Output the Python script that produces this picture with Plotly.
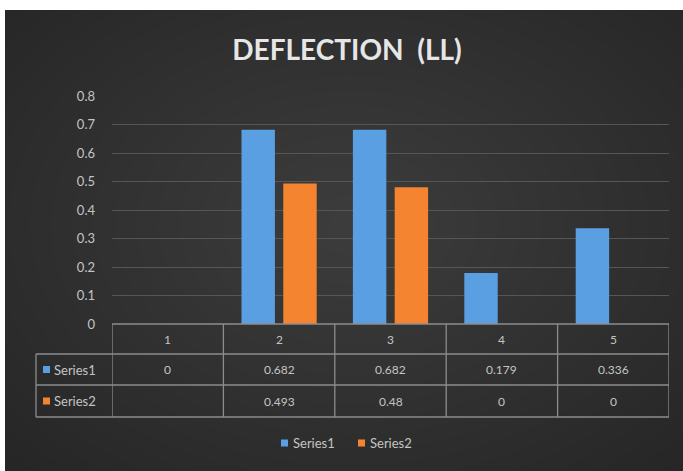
import plotly.graph_objects as go

# ---- data -------------------------------------------------------------
categories = [1, 2, 3, 4, 5]
category_labels = ["1", "2", "3", "4", "5"]
series_names = ["Series1", "Series2"]
series1 = [0, 0.682, 0.682, 0.179, 0.336]
series2 = [None, 0.493, 0.48, 0, 0]
y_ticks = [0, 0.1, 0.2, 0.3, 0.4, 0.5, 0.6, 0.7, 0.8]

# ---- styling ----------------------------------------------------------
W, H = 683, 471
M_L, M_R, M_T, M_B = 112, 14, 96, 147
PW, PH = W - M_L - M_R, H - M_T - M_B
BLUE = "#5b9fe3"
ORANGE = "#f4842f"
TEXT = "#c4c4c4"
GRID = "#565656"
TABLE_LINE = "#8c8c8c"
FONT = "Lato"


def px_x(px):
    """Convert a pixel column into paper x."""
    return (px - M_L) / PW


def px_y(py):
    """Convert a pixel row into paper y."""
    return (H - M_B - py) / PH


fig = go.Figure()
colors = [BLUE, ORANGE]
for name, vals, col in zip(series_names, [series1, series2], colors):
    fig.add_trace(go.Bar(x=categories, y=vals, name=name, showlegend=False,
                         marker=dict(color=col, line=dict(width=0))))

shapes = []
# white page with dark chart card
shapes.append(dict(type="rect", xref="paper", yref="paper", layer="below",
                   x0=px_x(5), x1=px_x(W + 2), y0=px_y(10), y1=px_y(H + 2),
                   fillcolor="#262626", line=dict(width=0)))
# soft radial glow toward the centre of the card
n_glow = 22
for i in range(n_glow):
    f = 1 - i / n_glow
    rx, ry = 470 * f, 330 * f
    cx, cy = 350, 225
    shapes.append(dict(type="circle", xref="paper", yref="paper", layer="below",
                       x0=px_x(cx - rx), x1=px_x(cx + rx),
                       y0=px_y(cy + ry), y1=px_y(cy - ry),
                       fillcolor="rgba(255,255,255,0.0062)", line=dict(width=0)))

# ---- data table under the plot ---------------------------------------
row_edges = [324, 354, 385, 417]          # pixel rows of table lines
key_left = 36
lw = 1.3
x_lo, x_hi = categories[0] - 0.5, categories[-1] + 0.5
# horizontal lines
shapes.append(dict(type="line", xref="x", yref="paper", x0=x_lo, x1=x_hi,
                   y0=px_y(row_edges[0]), y1=px_y(row_edges[0]),
                   line=dict(color=TABLE_LINE, width=lw)))
for r in row_edges[1:]:
    shapes.append(dict(type="line", xref="paper", yref="paper",
                       x0=px_x(key_left), x1=1, y0=px_y(r), y1=px_y(r),
                       line=dict(color=TABLE_LINE, width=lw)))
# vertical lines between categories
for c in categories + [categories[-1] + 1]:
    shapes.append(dict(type="line", xref="x", yref="paper", x0=c - 0.5, x1=c - 0.5,
                       y0=px_y(row_edges[0]), y1=px_y(row_edges[-1]),
                       line=dict(color=TABLE_LINE, width=lw)))
shapes.append(dict(type="line", xref="paper", yref="paper",
                   x0=px_x(key_left), x1=px_x(key_left),
                   y0=px_y(row_edges[1]), y1=px_y(row_edges[-1]),
                   line=dict(color=TABLE_LINE, width=lw)))

annotations = []
cell_font = dict(family=FONT, size=12, color=TEXT)
key_font = dict(family=FONT, size=13, color=TEXT)


def row_mid(i):
    return px_y((row_edges[i] + row_edges[i + 1]) / 2)


def key_box(x_px, y_px, col, size=7):
    return dict(type="rect", xref="paper", yref="paper",
                x0=px_x(x_px), x1=px_x(x_px + size),
                y0=px_y(y_px + size / 2), y1=px_y(y_px - size / 2),
                fillcolor=col, line=dict(width=0))


for c, lab in zip(categories, category_labels):
    annotations.append(dict(x=c, y=row_mid(0), xref="x", yref="paper", text=lab,
                            xanchor="center", yanchor="middle",
                            showarrow=False, font=cell_font))
for ri, (name, vals, col) in enumerate(zip(series_names, [series1, series2], colors)):
    ym = row_mid(ri + 1)
    for c, v in zip(categories, vals):
        txt = "" if v is None else f"{v:g}"
        annotations.append(dict(x=c, y=ym, xref="x", yref="paper", text=txt,
                                xanchor="center", yanchor="middle",
                                showarrow=False, font=cell_font))
    # legend key in the first column
    yc = (row_edges[ri + 1] + row_edges[ri + 2]) / 2
    shapes.append(key_box(43, yc, col))
    annotations.append(dict(x=px_x(52), y=ym, xref="paper", yref="paper", text=name,
                            xanchor="left", yanchor="middle",
                            showarrow=False, font=key_font))

# ---- legend below the table -------------------------------------------
legend_y = 443
legend_x = [281, 358]
for lx, name, col in zip(legend_x, series_names, colors):
    shapes.append(key_box(lx, legend_y, col))
    annotations.append(dict(x=px_x(lx + 10), y=px_y(legend_y), xref="paper",
                            yref="paper", text=name, xanchor="left",
                            yanchor="middle", showarrow=False, font=key_font))

fig.update_layout(
    width=W, height=H,
    margin=dict(l=M_L, r=M_R, t=M_T, b=M_B, pad=0),
    paper_bgcolor="white",
    plot_bgcolor="rgba(0,0,0,0)",
    font=dict(family=FONT, color=TEXT),
    title=dict(text="<b>DEFLECTION\u00a0 (LL)</b>", x=347 / W, xanchor="center",
               y=1 - 50 / H, yanchor="middle",
               font=dict(family=FONT, size=28, color="#e6e6e6")),
    barmode="group", bargap=0.25, bargroupgap=0.2,
    showlegend=False,
    shapes=shapes,
    annotations=annotations,
)
fig.update_xaxes(range=[x_lo, x_hi], showticklabels=False, showgrid=False,
                 zeroline=False, showline=False, ticks="")
fig.update_yaxes(range=[0, 0.8], tickvals=y_ticks, showgrid=True, gridcolor=GRID,
                 gridwidth=1, zeroline=False, showline=False, ticks="",
                 ticklabelstandoff=16, tickfont=dict(family=FONT, size=13, color=TEXT))

fig.write_html("out.html")
